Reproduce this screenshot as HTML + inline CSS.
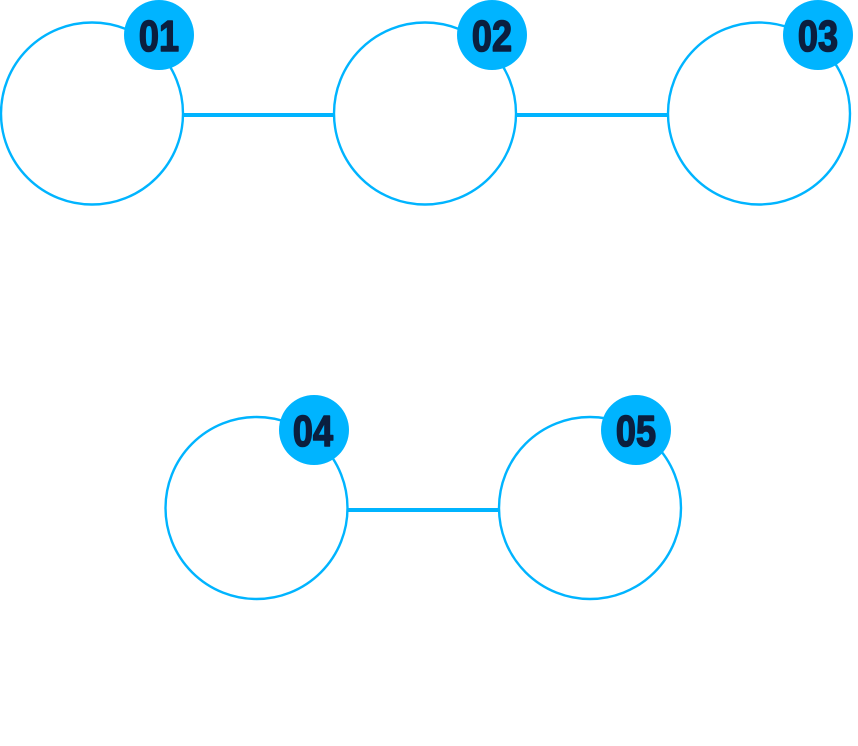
<!DOCTYPE html>
<html>
<head>
<meta charset="utf-8">
<style>
  html,body{margin:0;padding:0;background:#fff;}
  body{width:858px;height:746px;overflow:hidden;}
  svg{display:block;}
  .t{font-family:"Liberation Sans",sans-serif;font-weight:bold;font-size:44px;fill:#0b1f3f;stroke:#0b1f3f;stroke-width:1.6;stroke-linejoin:round;}
</style>
</head>
<body>
<svg width="858" height="746" viewBox="0 0 858 746" xmlns="http://www.w3.org/2000/svg">
  <g stroke="#00b4ff" fill="none">
    <line x1="183" y1="115" x2="334" y2="115" stroke-width="4"/>
    <line x1="516" y1="115" x2="668" y2="115" stroke-width="4"/>
    <line x1="347" y1="510" x2="499" y2="510" stroke-width="4"/>
  </g>
  <g stroke="#00b4ff" stroke-width="2.4" fill="#fff">
    <circle cx="92" cy="113.5" r="91"/>
    <circle cx="425" cy="113.5" r="91"/>
    <circle cx="759" cy="113.5" r="91"/>
    <circle cx="256.5" cy="508" r="91"/>
    <circle cx="590" cy="508" r="91"/>
  </g>
  <g fill="#00b4ff">
    <circle cx="159" cy="35" r="35"/>
    <circle cx="492" cy="35" r="35"/>
    <circle cx="818" cy="35" r="35"/>
    <circle cx="314" cy="430" r="35"/>
    <circle cx="636" cy="430" r="35"/>
  </g>
  <g class="t" text-anchor="middle">
    <text transform="translate(159,51) scale(0.82,1)">01</text>
    <text transform="translate(492,51) scale(0.82,1)">02</text>
    <text transform="translate(818,51) scale(0.82,1)">03</text>
    <text transform="translate(313,446) scale(0.82,1)">04</text>
    <text transform="translate(636,446) scale(0.82,1)">05</text>
  </g>
</svg>
</body>
</html>
